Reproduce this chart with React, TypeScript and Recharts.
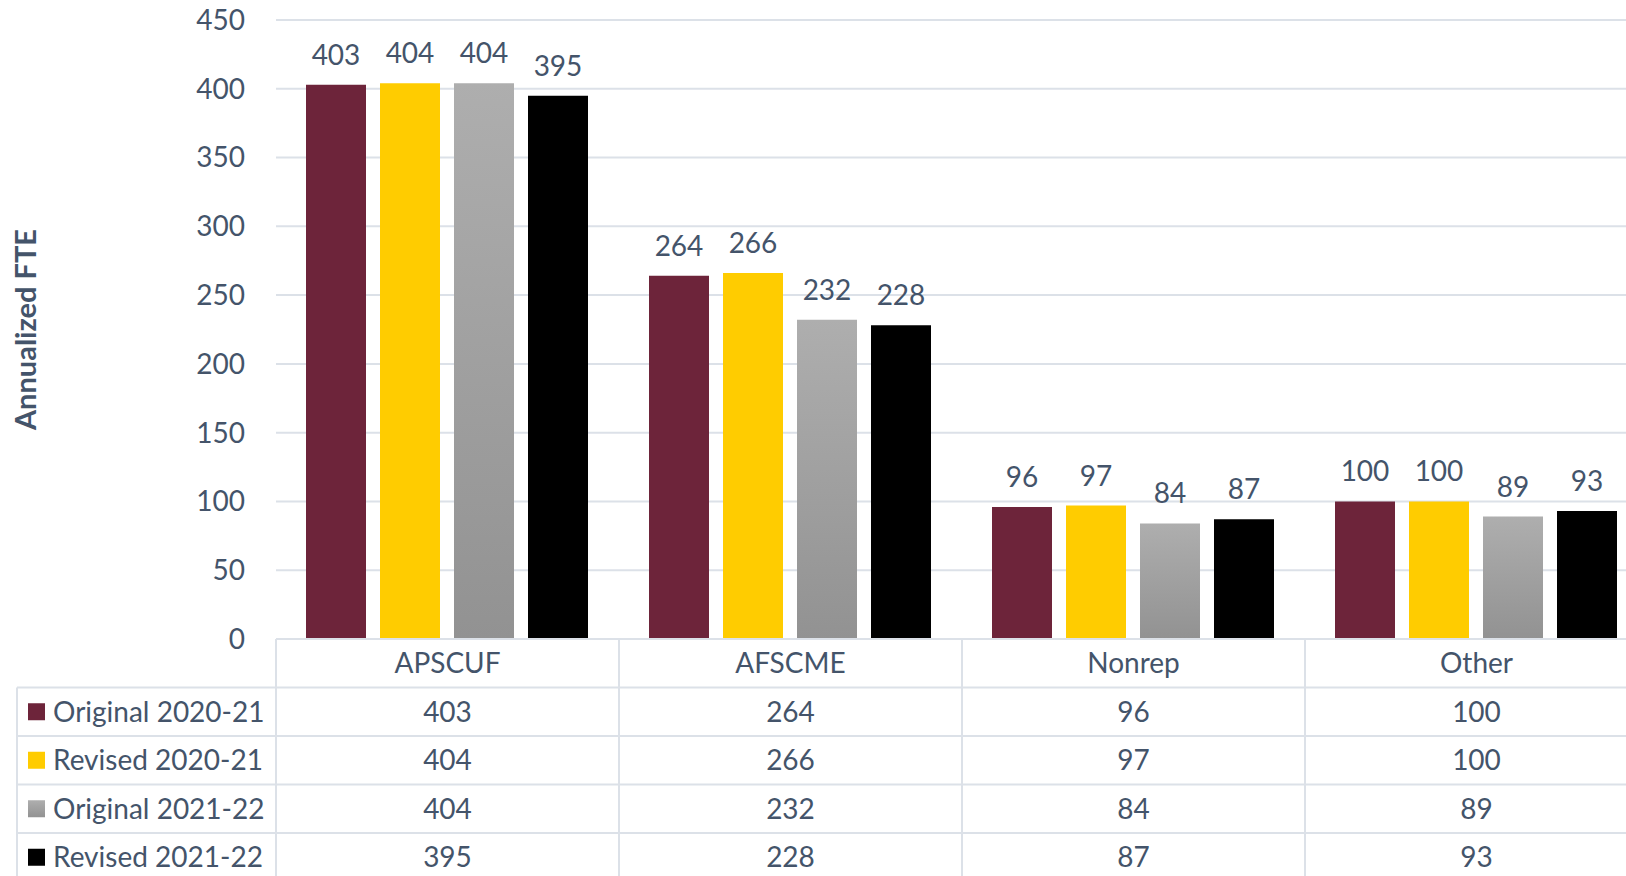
import React from "react";
import { Bar, BarChart, CartesianGrid, LabelList, XAxis, YAxis } from "recharts";

const categories = ["APSCUF", "AFSCME", "Nonrep", "Other"];
const seriesNames = ["Original 2020-21", "Revised 2020-21", "Original 2021-22", "Revised 2021-22"];
const original2021 = [403, 264, 96, 100];
const revised2021 = [404, 266, 97, 100];
const original2122 = [404, 232, 84, 89];
const revised2122 = [395, 228, 87, 93];
const yTicks = [0, 50, 100, 150, 200, 250, 300, 350, 400, 450];

const seriesKeys = ["s0", "s1", "s2", "s3"];
const seriesColors = ["#6D243A", "#FFCC00", "url(#grayFill)", "#000000"];

const data = categories.map((name, i) => ({
    name,
    s0: original2021[i],
    s1: revised2021[i],
    s2: original2122[i],
    s3: revised2122[i],
}));

const TEXT = "#44546A";
const LINE = "#DCE1E8";
const FONT = 28;
const ROW = 48.5;
const TABLE_LEFT = 17;

// the data table under the plot, one column per category tick
const TableTick = ({ x, y, payload }: any) => {
    const half = payload.offset || 171.5;
    const left = x - half;
    const right = x + half;
    const idx = payload.index;
    const bottom = 1000;
    return (
        <g>
            <line x1={left} y1={y} x2={left} y2={bottom} stroke={LINE} strokeWidth={2} />
            <line x1={right} y1={y} x2={right} y2={bottom} stroke={LINE} strokeWidth={2} />
            <text x={x} y={y + ROW / 2} dy="0.36em" textAnchor="middle" fill={TEXT} fontSize={FONT}>
                {payload.value}
            </text>
            {seriesKeys.map((key, r) => {
                const top = y + ROW * (r + 1);
                return (
                    <g key={key}>
                        <line x1={left} y1={top} x2={right} y2={top} stroke={LINE} strokeWidth={2} />
                        <text x={x} y={top + ROW / 2} dy="0.36em" textAnchor="middle" fill={TEXT} fontSize={FONT}>
                            {(data[idx] as any)[key]}
                        </text>
                    </g>
                );
            })}
            {idx === 0 && (
                <g>
                    <line x1={TABLE_LEFT} y1={y + ROW} x2={TABLE_LEFT} y2={bottom} stroke={LINE} strokeWidth={2} />
                    {seriesNames.map((name, r) => {
                        const top = y + ROW * (r + 1);
                        return (
                            <g key={name}>
                                <line x1={TABLE_LEFT} y1={top} x2={left} y2={top} stroke={LINE} strokeWidth={2} />
                                <rect x={28} y={top + ROW / 2 - 8.5} width={17} height={17} fill={seriesColors[r]} />
                                <text x={53} y={top + ROW / 2} dy="0.36em" fill={TEXT} fontSize={FONT}>
                                    {name}
                                </text>
                            </g>
                        );
                    })}
                </g>
            )}
        </g>
    );
};

const AxisTitle = ({ viewBox }: any) => {
    const cy = viewBox.y + viewBox.height / 2;
    return (
        <text
            x={26}
            y={cy}
            transform={`rotate(-90, 26, ${cy})`}
            textAnchor="middle"
            dy="0.36em"
            fill={TEXT}
            fontSize={29}
            fontWeight="bold"
        >
            Annualized FTE
        </text>
    );
};

const App = () => {
    return (
        <div
            style={{
                position: "absolute",
                left: 0,
                top: 0,
                width: 1626,
                height: 876,
                overflow: "hidden",
                background: "#fff",
                fontFamily: "Lato, sans-serif",
            }}
        >
            <BarChart
                width={1648}
                height={900}
                data={data}
                margin={{ top: 20, right: 0, bottom: 0, left: 0 }}
                barCategoryGap={30}
                barGap={14}
            >
                <defs>
                    <linearGradient id="grayFill" x1="0" y1="0" x2="0" y2="1">
                        <stop offset="0%" stopColor="#AEAEAE" />
                        <stop offset="100%" stopColor="#929292" />
                    </linearGradient>
                </defs>
                <CartesianGrid vertical={false} stroke={LINE} strokeWidth={2} />
                <XAxis
                    dataKey="name"
                    height={261}
                    interval={0}
                    tickLine={false}
                    tickSize={0}
                    tickMargin={0}
                    axisLine={{ stroke: LINE, strokeWidth: 2 }}
                    tick={(props: any) => <TableTick {...props} />}
                />
                <YAxis
                    width={276}
                    domain={[0, 450]}
                    ticks={yTicks}
                    axisLine={false}
                    tickLine={false}
                    tickSize={0}
                    tickMargin={31}
                    tick={{ fill: TEXT, fontSize: FONT }}
                    label={<AxisTitle />}
                />
                {seriesKeys.map((key, i) => (
                    <Bar key={key} dataKey={key} name={seriesNames[i]} fill={seriesColors[i]} isAnimationActive={false}>
                        <LabelList dataKey={key} position="top" offset={20} fill={TEXT} fontSize={FONT} />
                    </Bar>
                ))}
            </BarChart>
        </div>
    );
};

export default App;
